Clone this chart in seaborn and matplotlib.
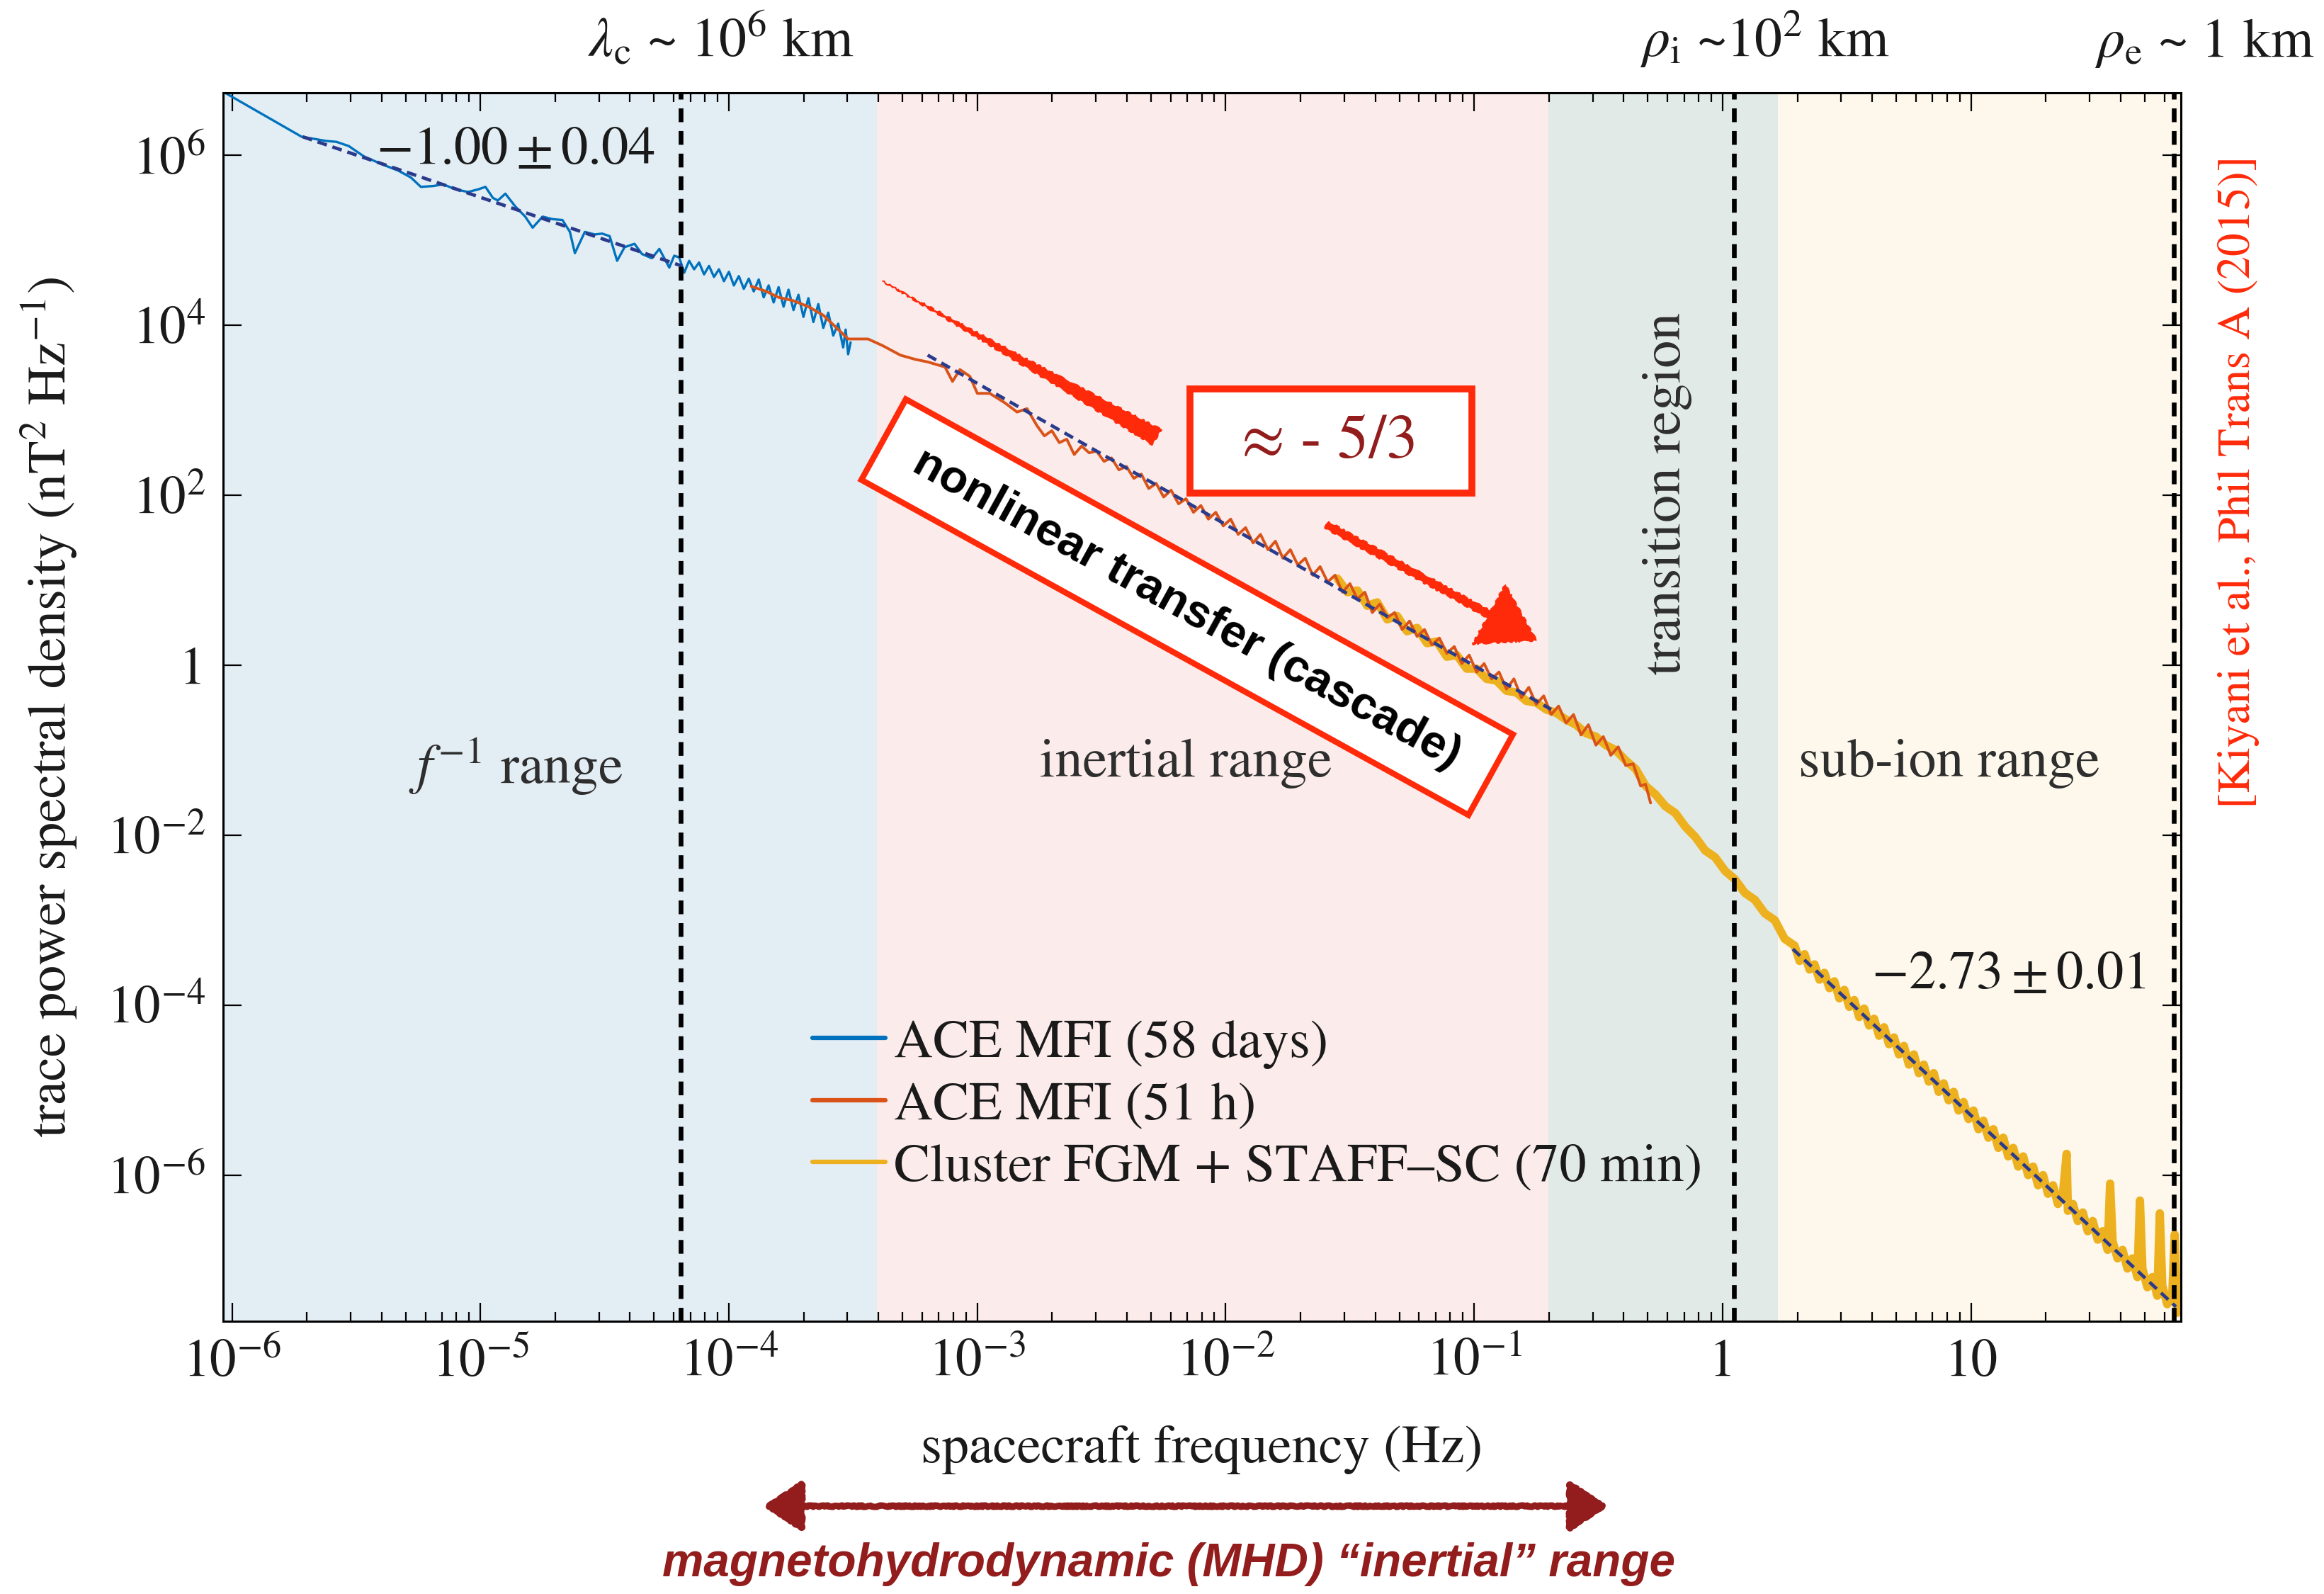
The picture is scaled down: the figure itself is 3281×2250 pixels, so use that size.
import numpy as np
import pandas as pd
import matplotlib
matplotlib.use('Agg')
import matplotlib.pyplot as plt
import seaborn as sns
from matplotlib.patches import Rectangle
from matplotlib.lines import Line2D
from matplotlib.transforms import IdentityTransform
from matplotlib.ticker import FixedLocator, FixedFormatter, NullLocator, LogLocator, NullFormatter

sns.set_style('ticks')
plt.rcParams['font.family'] = ['STIXGeneral', 'DejaVu Serif']
plt.rcParams['mathtext.fontset'] = 'stix'
plt.rcParams['lines.scale_dashes'] = False
plt.rcParams['axes.unicode_minus'] = True

# ---------------- data (log10 frequency [Hz], log10 power [nT^2/Hz]) ----------------
ace58_logf = [-6.03, -5.72, -5.68, -5.62, -5.58, -5.53, -5.47, -5.40, -5.33, -5.28, -5.24,
              -5.19, -5.15, -5.10, -5.05, -5.01, -4.98, -4.95, -4.93, -4.90, -4.86, -4.82,
              -4.79, -4.75, -4.71, -4.67, -4.64, -4.62, -4.58, -4.54, -4.51, -4.48, -4.45,
              -4.42, -4.38, -4.35, -4.31, -4.28, -4.24, -4.22, -4.20, -4.18, -4.16, -4.14,
              -4.12, -4.10, -4.08, -4.06, -4.04, -4.02, -4.00, -3.98, -3.96, -3.94, -3.92,
              -3.90, -3.88, -3.86, -3.84, -3.82, -3.80, -3.78, -3.76, -3.74, -3.72, -3.70,
              -3.68, -3.66, -3.64, -3.62, -3.60, -3.58, -3.56, -3.54, -3.53, -3.52, -3.51]
ace58_logP = [6.74, 6.22, 6.20, 6.17, 6.16, 6.11, 5.99, 5.90, 5.82, 5.74, 5.63,
              5.64, 5.66, 5.60, 5.57, 5.60, 5.63, 5.50, 5.47, 5.55, 5.40, 5.28,
              5.15, 5.28, 5.25, 5.24, 5.10, 4.85, 5.10, 5.07, 5.08, 5.05, 4.76,
              4.92, 4.96, 4.84, 4.79, 4.90, 4.68, 4.82, 4.80, 4.62, 4.76, 4.66,
              4.74, 4.60, 4.70, 4.57, 4.66, 4.52, 4.63, 4.47, 4.58, 4.43, 4.55,
              4.40, 4.54, 4.33, 4.47, 4.27, 4.45, 4.22, 4.42, 4.18, 4.36, 4.10,
              4.32, 4.04, 4.25, 3.97, 4.15, 3.88, 4.02, 3.74, 3.95, 3.66, 3.80]

ace51_logf = [-3.91, -3.85, -3.80, -3.74, -3.68, -3.62, -3.57, -3.52, -3.44, -3.38, -3.31,
              -3.25, -3.20, -3.13, -3.10, -3.07, -3.03, -3.00, -2.95, -2.89, -2.84, -2.80,
              -2.76, -2.73, -2.70, -2.67, -2.64, -2.61, -2.58, -2.55, -2.52, -2.49, -2.46,
              -2.43, -2.40, -2.37, -2.34, -2.31, -2.28, -2.25, -2.22, -2.19, -2.16, -2.13,
              -2.10, -2.07, -2.04, -2.01, -1.98, -1.95, -1.92, -1.89, -1.86, -1.83, -1.80,
              -1.77, -1.74, -1.71, -1.68, -1.65, -1.62, -1.59, -1.56, -1.53, -1.50, -1.47,
              -1.44, -1.41, -1.38, -1.35, -1.32, -1.29, -1.26, -1.23, -1.20, -1.17, -1.14,
              -1.11, -1.08, -1.05, -1.02, -0.99, -0.96, -0.93, -0.90, -0.87, -0.84, -0.81,
              -0.78, -0.75, -0.72, -0.69, -0.66, -0.63, -0.60, -0.57, -0.54, -0.51, -0.48,
              -0.45, -0.42, -0.39, -0.36, -0.33, -0.31, -0.29]
ace51_logP = [4.46, 4.40, 4.33, 4.29, 4.22, 4.12, 3.98, 3.84, 3.84, 3.76, 3.65,
              3.60, 3.57, 3.51, 3.34, 3.48, 3.40, 3.20, 3.20, 3.09, 2.98, 3.02,
              2.82, 2.70, 2.76, 2.62, 2.66, 2.48, 2.58, 2.50, 2.52, 2.40, 2.44,
              2.30, 2.34, 2.20, 2.25, 2.08, 2.14, 1.98, 2.06, 1.90, 1.96, 1.80,
              1.88, 1.72, 1.80, 1.64, 1.72, 1.54, 1.62, 1.44, 1.54, 1.36, 1.46,
              1.26, 1.36, 1.18, 1.26, 1.06, 1.16, 0.98, 1.06, 0.86, 0.96, 0.78,
              0.86, 0.62, 0.72, 0.56, 0.62, 0.42, 0.52, 0.34, 0.42, 0.24, 0.32,
              0.14, 0.22, 0.02, 0.12, -0.08, 0.02, -0.16, -0.08, -0.28, -0.16, -0.38,
              -0.26, -0.46, -0.36, -0.58, -0.48, -0.68, -0.58, -0.82, -0.70, -0.94, -0.84,
              -1.06, -0.96, -1.18, -1.16, -1.42, -1.40, -1.62]

cluster_logf = [-1.55, -1.51, -1.47, -1.43, -1.39, -1.35, -1.31, -1.27, -1.23, -1.19, -1.15,
                -1.11, -1.07, -1.03, -0.99, -0.95, -0.91, -0.87, -0.83, -0.79, -0.75, -0.71,
                -0.67, -0.63, -0.59, -0.55, -0.51, -0.47, -0.43, -0.39, -0.35, -0.31, -0.27,
                -0.23, -0.19, -0.15, -0.11, -0.07, -0.03, 0.01, 0.05, 0.09, 0.13, 0.17,
                0.21, 0.25,
                0.29, 0.31, 0.33, 0.35, 0.37, 0.39, 0.41, 0.43, 0.45, 0.47, 0.49,
                0.51, 0.53, 0.55, 0.57, 0.59, 0.61, 0.63, 0.65, 0.67, 0.69, 0.71,
                0.73, 0.75, 0.77, 0.79, 0.81, 0.83, 0.85, 0.87, 0.89, 0.91, 0.93,
                0.95, 0.97, 0.99, 1.01, 1.03, 1.05, 1.07, 1.09, 1.11, 1.13, 1.15,
                1.17, 1.19, 1.21, 1.23, 1.25, 1.27, 1.29, 1.31, 1.33, 1.35, 1.37,
                1.385, 1.39, 1.41, 1.43, 1.45, 1.47, 1.49, 1.51, 1.53, 1.55, 1.56,
                1.57, 1.59, 1.61, 1.63, 1.65, 1.67, 1.68, 1.69, 1.71, 1.73, 1.75,
                1.76, 1.77, 1.79, 1.81, 1.82, 1.83, 1.845]
cluster_logP = [1.02, 0.86, 0.88, 0.70, 0.74, 0.54, 0.58, 0.40, 0.44, 0.26, 0.28,
                0.10, 0.12, -0.04, -0.04, -0.16, -0.18, -0.30, -0.32, -0.42, -0.44, -0.52,
                -0.56, -0.64, -0.70, -0.80, -0.84, -0.94, -1.00, -1.12, -1.22, -1.42, -1.52,
                -1.66, -1.74, -1.90, -2.02, -2.18, -2.26, -2.42, -2.52, -2.68, -2.76, -2.92,
                -3.00, -3.22,
                -3.30, -3.48, -3.40, -3.58, -3.52, -3.70, -3.62, -3.80, -3.72, -3.92, -3.82,
                -4.02, -3.94, -4.14, -4.04, -4.24, -4.16, -4.36, -4.26, -4.46, -4.38, -4.58,
                -4.48, -4.70, -4.58, -4.80, -4.70, -4.90, -4.80, -5.02, -4.92, -5.12, -5.02,
                -5.24, -5.14, -5.34, -5.24, -5.46, -5.36, -5.56, -5.46, -5.68, -5.56, -5.78,
                -5.68, -5.90, -5.78, -6.00, -5.90, -6.12, -6.00, -6.22, -6.12, -6.34, -6.22,
                -5.75, -6.42, -6.34, -6.54, -6.44, -6.66, -6.54, -6.76, -6.66, -6.88, -6.10,
                -6.78, -6.98, -6.88, -7.10, -6.98, -7.20, -6.30, -7.10, -7.32, -7.20, -7.42,
                -6.45, -7.30, -7.52, -7.42, -6.70, -7.62, -7.55]

# power-law fits (log10 f endpoints, log10 P endpoints)
fit1_logf, fit1_logP = [-5.716, -4.19], [6.22, 4.70]
fit2_logf, fit2_logP = [-3.20, -0.69], [3.65, -0.52]
fit3_logf, fit3_logP = [0.283, 1.825], [-3.34, -7.55]

series_labels = ['ACE MFI (58 days)', 'ACE MFI (51 h)', 'Cluster FGM + STAFF\u2013SC (70 min)']
series_colors = ['#0072BD', '#D95319', '#EDB120']
fit_color = '#2b3b8c'

scale_freqs = [6.4e-5, 1.11, 65.6]          # lambda_c, rho_i, rho_e
region_edges = [10**-6.036, 10**-3.405, 10**-0.70, 10**0.223, 10**1.845]
region_colors = ['#e3edf4', '#fbebea', '#e1eae6', '#fdf8eb']

xtick_vals = [1e-6, 1e-5, 1e-4, 1e-3, 1e-2, 1e-1, 1, 10]
xtick_labels = [r'$10^{-6}$', r'$10^{-5}$', r'$10^{-4}$', r'$10^{-3}$', r'$10^{-2}$', r'$10^{-1}$', '1', '10']
ytick_vals = [1e6, 1e4, 1e2, 1, 1e-2, 1e-4, 1e-6]
ytick_labels = [r'$10^{6}$', r'$10^{4}$', r'$10^{2}$', '1', r'$10^{-2}$', r'$10^{-4}$', r'$10^{-6}$']

# ---------------- figure ----------------
W, H = 3281, 2250
fig = plt.figure(figsize=(W / 100, H / 100), dpi=100)
fig.patch.set_facecolor('white')
L, R, T, B = 315, 3079, 131, 1865
ax = fig.add_axes([L / W, (H - B) / H, (R - L) / W, (B - T) / H])
ax.set_xscale('log')
ax.set_yscale('log')

def fx(px):
    return px / W

def fy(py):
    return 1 - py / H

for i, c in enumerate(region_colors):
    ax.axvspan(region_edges[i], region_edges[i + 1], color=c, lw=0, zorder=0)

def frame(lf, lp):
    return pd.DataFrame({'f': 10 ** np.array(lf, dtype=float), 'P': 10 ** np.array(lp, dtype=float)})

d_blue = frame(ace58_logf, ace58_logP)
d_orange = frame(ace51_logf, ace51_logP)
d_yellow = frame(cluster_logf, cluster_logP)

sns.lineplot(data=d_blue, x='f', y='P', ax=ax, color=series_colors[0], lw=2.4,
             estimator=None, sort=False, legend=False, zorder=3)
sns.lineplot(data=d_yellow, x='f', y='P', ax=ax, color=series_colors[2], lw=8.5,
             estimator=None, sort=False, legend=False, zorder=3)
sns.lineplot(data=d_orange, x='f', y='P', ax=ax, color=series_colors[1], lw=2.8,
             estimator=None, sort=False, legend=False, zorder=4)

for lf, lp in [(fit1_logf, fit1_logP), (fit2_logf, fit2_logP), (fit3_logf, fit3_logP)]:
    sns.lineplot(data=frame(lf, lp), x='f', y='P', ax=ax, color=fit_color, lw=3.4,
                 dashes=False, estimator=None, sort=False, legend=False, zorder=5)
for ln in ax.lines[3:]:
    ln.set_dashes((10, 6))

for f0 in scale_freqs:
    ax.axvline(f0, color='black', lw=4.8, dashes=(14, 9), zorder=6)

ax.set_xlim(10 ** -6.036, 10 ** 1.845)
ax.set_ylim(10 ** -7.72, 10 ** 6.737)

ax.xaxis.set_major_locator(FixedLocator(xtick_vals))
ax.xaxis.set_major_formatter(FixedFormatter(xtick_labels))
ax.xaxis.set_minor_locator(LogLocator(base=10, subs=np.arange(2, 10), numticks=30))
ax.xaxis.set_minor_formatter(NullFormatter())
ax.yaxis.set_major_locator(FixedLocator(ytick_vals))
ax.yaxis.set_major_formatter(FixedFormatter(ytick_labels))
ax.yaxis.set_minor_locator(NullLocator())
ax.tick_params(which='both', direction='in', top=True, right=True, width=1.6, color='black')
ax.tick_params(which='major', length=19, labelsize=54, pad=18, labelcolor='#1a1a1a')
ax.tick_params(which='minor', length=9.5)
for sp in ax.spines.values():
    sp.set_linewidth(2.2)
    sp.set_color('black')
    sp.set_zorder(10)

ax.set_xlabel('spacecraft frequency (Hz)', fontsize=55, color='#1a1a1a')
ax.xaxis.set_label_coords(0.5, -(2012 - B) / (B - T))
ax.set_ylabel(r'trace power spectral density (nT$^2$ Hz$^{-1}$)', fontsize=55, color='#1a1a1a')
ax.yaxis.set_label_coords(-(L - 112) / (R - L), 0.5)

# legend
handles = [Line2D([], [], color=c, lw=4.5) for c in series_colors]
ax.legend(handles, series_labels, loc='center left', bbox_to_anchor=(fx(1147), fy(1561)),
          bbox_transform=fig.transFigure, frameon=False, fontsize=55, handlelength=1.35,
          handletextpad=0.16, labelspacing=0.22, borderpad=0, borderaxespad=0,
          labelcolor='#1a1a1a')

# scale labels on top
top_kw = dict(fontsize=56, color='#1a1a1a', ha='center', va='baseline')
fig.text(fx(1018), fy(80), r'$\lambda_{\mathrm{c}}$ ~ 10$^{6}$ km', **top_kw)
fig.text(fx(2491), fy(80), r'$\rho_{\mathrm{i}}$ ~10$^{2}$ km', **top_kw)
fig.text(fx(3112), fy(80), r'$\rho_{\mathrm{e}}$ ~ 1 km', **top_kw)

# region labels
reg_kw = dict(fontsize=56, color='#2e2e2e', ha='center', va='center')
fig.text(fx(728), fy(1082), r'$f^{-1}$ range', **reg_kw)
fig.text(fx(1674), fy(1078), 'inertial range', **reg_kw)
fig.text(fx(2752), fy(1078), 'sub-ion range', **reg_kw)
fig.text(fx(2354), fy(697), 'transition region', rotation=90, **reg_kw)

# slope values
fig.text(fx(728), fy(214), r'$-1.00\pm0.04$', fontsize=55, color='#1a1a1a', ha='center', va='center')
fig.text(fx(2836), fy(1378), r'$-2.73\pm0.01$', fontsize=55, color='#1a1a1a', ha='center', va='center')

RED = '#ff2a0a'
DARKRED = '#931c1c'

# reference text (reads bottom to top)
fig.text(fx(3160), fy(680), '[Kiyani et al., Phil Trans A (2015)]', rotation=90,
         fontsize=47, color=RED, ha='center', va='center')

# approx -5/3 box
box1 = Rectangle((1680, H - 696), 398, 147, transform=IdentityTransform(),
                 fc='white', ec=RED, lw=7, zorder=20)
fig.add_artist(box1)
fig.text(fx(1877), fy(625), '\u2248 - 5/3', fontsize=64, color=DARKRED,
         ha='center', va='center', zorder=21)

# nonlinear transfer box
cx, cy, bw, bh, ang = 1676, H - 857, 979, 130, -28.9
box2 = Rectangle((cx - bw / 2, cy - bh / 2), bw, bh, angle=ang, rotation_point='center',
                 transform=IdentityTransform(), fc='white', ec=RED, lw=6, zorder=20)
fig.add_artist(box2)
fig.text(fx(1676), fy(860), 'nonlinear transfer (cascade)', rotation=ang, rotation_mode='anchor',
         fontsize=47, fontweight='bold', family=['Liberation Sans', 'DejaVu Sans'],
         color='black', ha='center', va='center', zorder=21)

# hand-drawn red arrows
a1 = ax.annotate('', xy=(fx(1246), fy(397)), xycoords='figure fraction',
                 xytext=(fx(1633), fy(617)), textcoords='figure fraction',
                 arrowprops=dict(arrowstyle='wedge,tail_width=0.6,shrink_factor=0.4',
                                 fc=RED, ec=RED, lw=1, mutation_scale=30, shrinkA=0, shrinkB=0),
                 zorder=15, annotation_clip=False)
a1.arrow_patch.set_sketch_params(scale=1.2, length=25, randomness=8)
a2 = ax.annotate('', xy=(fx(2169), fy(904)), xycoords='figure fraction',
                 xytext=(fx(1873), fy(741)), textcoords='figure fraction',
                 arrowprops=dict(arrowstyle='simple,head_length=1.0,head_width=1.25,tail_width=0.14',
                                 fc=RED, ec=RED, lw=1, mutation_scale=55, shrinkA=0, shrinkB=0),
                 zorder=15, annotation_clip=False)
a2.arrow_patch.set_sketch_params(scale=1.2, length=25, randomness=8)

# bottom MHD range arrow + label
a3 = ax.annotate('', xy=(fx(2270), fy(2126)), xycoords='figure fraction',
                 xytext=(fx(1078), fy(2126)), textcoords='figure fraction',
                 arrowprops=dict(arrowstyle='<|-|>,head_length=0.6,head_width=0.4',
                                 color=DARKRED, lw=6.5, mutation_scale=55, shrinkA=0, shrinkB=0),
                 annotation_clip=False)
a3.arrow_patch.set_sketch_params(scale=1.0, length=15, randomness=8)
mhd = fig.text(fx(1650), fy(2208), 'magnetohydrodynamic (MHD) \u201cinertial\u201d range',
               fontsize=50, fontweight='bold', fontstyle='italic',
               family=['Liberation Sans Narrow', 'Liberation Sans', 'DejaVu Sans'],
               color=DARKRED, ha='center', va='center')
fig.canvas.draw()
bb = mhd.get_window_extent()
mhd.set_fontsize(50 * 1430 / bb.width)

fig.savefig('out.png', dpi=100, facecolor='white')
